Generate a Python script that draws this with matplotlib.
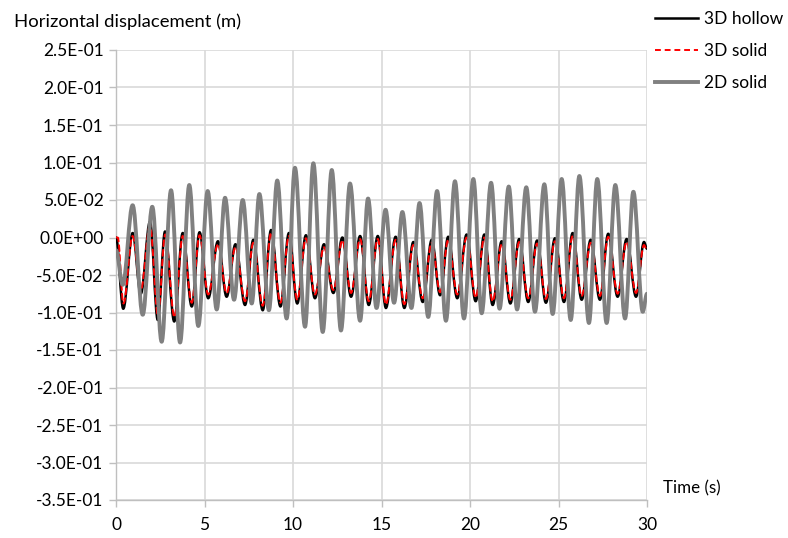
import matplotlib
matplotlib.use("Agg")
import matplotlib.pyplot as plt
from matplotlib.path import Path
from matplotlib.patches import PathPatch
from matplotlib.lines import Line2D
from matplotlib.ticker import FuncFormatter, MultipleLocator

plt.rcParams['font.family'] = ['Lato', 'DejaVu Sans']

# ---- data: extreme points (peaks / troughs) ----
t_hollow = [0.00, 0.41, 0.94, 1.40, 1.92, 2.36, 2.77, 3.29, 3.77, 4.28, 4.72, 5.21, 5.76, 6.25,
            6.75, 7.29, 7.76, 8.29, 8.76, 9.29, 9.77, 10.24, 10.73, 11.24, 11.75, 12.28, 12.79,
            13.28, 13.79, 14.28, 14.79, 15.25, 15.80, 16.29, 16.80, 17.33, 17.84, 18.31, 18.77,
            19.28, 19.81, 20.32, 20.81, 21.28, 21.79, 22.28, 22.78, 23.29, 23.79, 24.29, 24.80,
            25.31, 25.80, 26.31, 26.82, 27.34, 27.81, 28.34, 28.85, 29.38, 29.83, 30.00]
v_hollow = [0.000, -0.095, 0.006, -0.075, 0.021, -0.110, 0.008, -0.112, 0.006, -0.092, 0.007,
            -0.081, -0.005, -0.079, -0.009, -0.090, -0.003, -0.097, 0.010, -0.092, 0.006, -0.088,
            0.003, -0.081, -0.009, -0.074, 0.000, -0.079, 0.002, -0.090, 0.002, -0.094, 0.001,
            -0.094, -0.006, -0.086, -0.003, -0.077, 0.001, -0.081, 0.004, -0.085, 0.004, -0.090,
            -0.005, -0.088, -0.002, -0.086, -0.004, -0.087, -0.001, -0.086, 0.006, -0.083, -0.003,
            -0.083, 0.005, -0.079, -0.002, -0.079, -0.006, -0.015]

t_solid3d = [0.00, 0.10, 0.42, 0.94, 1.40, 1.92, 2.37, 2.78, 3.30, 3.77, 4.28, 4.72, 5.21, 5.76,
             6.25, 6.75, 7.29, 7.76, 8.29, 8.76, 9.29, 9.77, 10.24, 10.73, 11.24, 11.75, 12.28,
             12.79, 13.28, 13.79, 14.28, 14.79, 15.25, 15.80, 16.29, 16.80, 17.33, 17.84, 18.31,
             18.77, 19.28, 19.81, 20.32, 20.81, 21.28, 21.79, 22.28, 22.78, 23.29, 23.79, 24.29,
             24.80, 25.31, 25.80, 26.31, 26.82, 27.34, 27.81, 28.34, 28.85, 29.38, 29.83, 30.00]
v_solid3d = [0.000, 0.000, -0.088, 0.002, -0.070, 0.016, -0.104, 0.004, -0.106, 0.002, -0.087,
             0.003, -0.076, -0.009, -0.074, -0.013, -0.085, -0.007, -0.091, 0.006, -0.087, 0.002,
             -0.083, -0.001, -0.076, -0.013, -0.070, -0.004, -0.074, -0.002, -0.085, -0.002,
             -0.089, -0.003, -0.089, -0.010, -0.081, -0.007, -0.073, -0.003, -0.076, 0.000,
             -0.080, 0.000, -0.085, -0.009, -0.083, -0.006, -0.081, -0.008, -0.082, -0.005,
             -0.081, 0.002, -0.078, -0.007, -0.078, 0.001, -0.075, -0.006, -0.074, -0.010, -0.017]

t_solid2d = [0.00, 0.38, 0.94, 1.51, 2.05, 2.58, 3.11, 3.62, 4.14, 4.65, 5.18, 5.69, 6.16, 6.67,
             7.16, 7.67, 8.10, 8.64, 9.11, 9.64, 10.11, 10.68, 11.15, 11.68, 12.19, 12.71, 13.22,
             13.79, 14.24, 14.72, 15.23, 15.71, 16.18, 16.69, 17.15, 17.64, 18.14, 18.64, 19.15,
             19.66, 20.19, 20.66, 21.19, 21.67, 22.19, 22.66, 23.18, 23.67, 24.20, 24.67, 25.18,
             25.69, 26.18, 26.72, 27.19, 27.72, 28.21, 28.76, 29.23, 29.76, 30.00]
v_solid2d = [-0.017, -0.063, 0.043, -0.103, 0.041, -0.139, 0.063, -0.140, 0.070, -0.118, 0.062,
             -0.096, 0.053, -0.083, 0.050, -0.088, 0.058, -0.097, 0.076, -0.108, 0.093, -0.119,
             0.099, -0.126, 0.090, -0.124, 0.072, -0.111, 0.052, -0.094, 0.037, -0.087, 0.034,
             -0.094, 0.046, -0.106, 0.062, -0.111, 0.075, -0.108, 0.078, -0.101, 0.073, -0.095,
             0.068, -0.096, 0.067, -0.099, 0.071, -0.102, 0.078, -0.110, 0.082, -0.114, 0.078,
             -0.114, 0.070, -0.108, 0.061, -0.099, -0.075]

series_labels = ["3D hollow", "3D solid", "2D solid"]
x_ticks = [0, 5, 10, 15, 20, 25, 30]


def smooth_path(ts, vs):
    """Cubic Bezier through extreme points with flat tangents (sine-like)."""
    verts = [(ts[0], vs[0])]
    codes = [Path.MOVETO]
    k = 0.36
    for i in range(1, len(ts)):
        t0, v0, t1, v1 = ts[i - 1], vs[i - 1], ts[i], vs[i]
        dt = t1 - t0
        verts += [(t0 + k * dt, v0), (t1 - k * dt, v1), (t1, v1)]
        codes += [Path.CURVE4, Path.CURVE4, Path.CURVE4]
    return Path(verts, codes)


W, H = 788, 538
FS = 12.5
fig = plt.figure(figsize=(W / 100, H / 100), dpi=100)
ax = fig.add_axes([116 / W, 38 / H, 531 / W, 450 / H])

ax.set_xlim(0, 30)
ax.set_ylim(-0.35, 0.25)

grid_c = "#D9D9D9"
ax.xaxis.set_major_locator(MultipleLocator(5))
ax.yaxis.set_major_locator(MultipleLocator(0.05))
ax.grid(True, color=grid_c, linewidth=1.2, zorder=0)
ax.set_axisbelow(True)
for s in ["top", "right"]:
    ax.spines[s].set_visible(False)
for s in ["left", "bottom"]:
    ax.spines[s].set_color("#BFBFBF")
    ax.spines[s].set_linewidth(1.0)
ax.tick_params(axis="both", direction="out", length=5, width=1.0, color="#BFBFBF",
               labelsize=FS, labelcolor="black", pad=4)
ax.tick_params(axis="x", pad=7)
ax.set_xticks(x_ticks)
ax.yaxis.set_major_formatter(FuncFormatter(lambda v, p: "{:.1E}".format(v + 0.0 if abs(v) > 1e-12 else 0.0)))

styles = [
    dict(color="black", linewidth=1.8, linestyle="-"),
    dict(color="#FF0000", linewidth=1.4, linestyle=(0, (3, 2))),
    dict(color="#808080", linewidth=2.8, linestyle="-"),
]
data = [(t_hollow, v_hollow), (t_solid3d, v_solid3d), (t_solid2d, v_solid2d)]
for z, ((ts, vs), st) in enumerate(zip(data, styles)):
    patch = PathPatch(smooth_path(ts, vs), facecolor="none", edgecolor=st["color"],
                      linewidth=st["linewidth"], linestyle=st["linestyle"], zorder=3 + z,
                      capstyle="round", joinstyle="round")
    ax.add_patch(patch)

handles = [Line2D([], [], **st) for st in styles]
fig.legend(handles, series_labels, loc="upper left", bbox_to_anchor=(655 / W, 1 - 11 / H),
           frameon=False, fontsize=FS, handlelength=2.5, handletextpad=0.3,
           labelspacing=0.92, borderpad=0, borderaxespad=0)

fig.text(14 / W, 1 - 22 / H, "Horizontal displacement (m)", fontsize=13.3, va="center", ha="left")
fig.text(663 / W, 1 - 488 / H, "Time (s)", fontsize=12.2, va="center", ha="left")

fig.savefig("out.png", dpi=100)
